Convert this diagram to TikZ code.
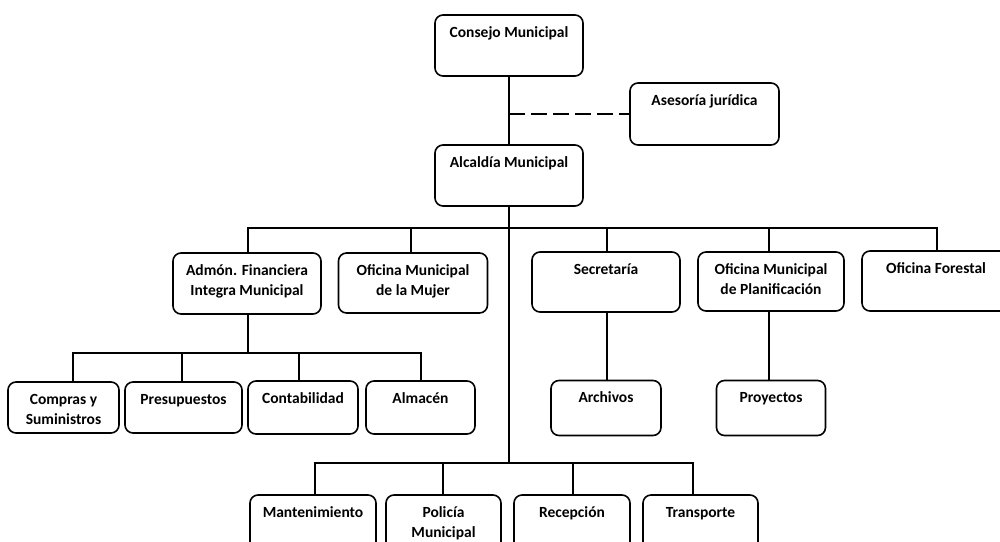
\documentclass[tikz,border=0pt]{standalone}
\usepackage{fontspec}
\setmainfont{Carlito}
\usetikzlibrary{calc}
\tikzset{
  orgbox/.style={draw, line width=1.6pt, rounded corners=8pt, inner sep=0pt},
  orglbl/.style={anchor=north, inner sep=0pt, align=center, font=\bfseries\fontsize{15.5}{20}\selectfont},
  conn/.style={line width=2.2pt},
  dconn/.style={line width=2.2pt, dash pattern=on 16pt off 6pt}
}
\newcommand\obox[6]{%
  \node[orgbox, minimum width=#4pt, minimum height=#5pt] (#1) at (#2,#3) {};
  \node[orglbl] (#1-t) at ([yshift=-9pt]#1.north) {\strut #6};
}
\begin{document}
\begin{tikzpicture}[x=1pt,y=-1pt]
\useasboundingbox (0,0) rectangle (1000,541);
\clip (0,0) rectangle (1000,541);
\fill[white] (0,0) rectangle (1000,541);
% top level
\obox{consejo}{509}{45.5}{148}{61}{Consejo Municipal}
\obox{asesoria}{704.5}{114}{149}{62}{Asesoría jurídica}
\obox{alcaldia}{509}{175.5}{148}{61}{Alcaldía Municipal}
% second level
\obox{admon}{247}{283.5}{148}{61}{Admón. Financiera\\Integra Municipal}
\obox{mujer}{413}{283}{149}{60}{Oficina Municipal\\de la Mujer}
\obox{secretaria}{606}{282}{148}{60}{Secretaría}
\obox{planif}{771}{281.5}{146}{59}{Oficina Municipal\\de Planificación}
\obox{forestal}{936}{281}{148}{60}{Oficina Forestal}
% third level
\obox{compras}{63.5}{407.5}{111}{51}{Compras y\\Suministros}
\obox{presup}{183.5}{407.5}{117}{51}{Presupuestos}
\obox{contab}{303}{407.5}{110}{53}{Contabilidad}
\obox{almacen}{420.5}{407.5}{109}{53}{Almacén}
\obox{archivos}{606}{408}{110}{55}{Archivos}
\obox{proyectos}{771}{408}{109}{55}{Proyectos}
% bottom level
\obox{mant}{313}{523.5}{126}{57}{Mantenimiento}
\obox{policia}{443.5}{523.5}{115}{57}{Policía\\Municipal}
\obox{recepcion}{572}{523.5}{116}{57}{Recepción}
\obox{transporte}{700.5}{523.5}{115}{57}{Transporte}
% junctions
\coordinate (j1) at (509,228);
\coordinate (j2) at (248,353);
\coordinate (j3) at (509,463);
% connectors
\draw[conn] (consejo.south) -- (alcaldia.north);
\draw[dconn] (consejo.south |- asesoria.west) -- (asesoria.west);
\draw[conn] (alcaldia.south) -- (j3);
\draw[conn] ([xshift=1pt]admon.north) |- (j1) -| ([xshift=1pt]forestal.north);
\draw[conn] ([xshift=-2pt]mujer.north) |- (j1);
\draw[conn] ([xshift=1pt]secretaria.north) |- (j1);
\draw[conn] ([xshift=-2pt]planif.north) |- (j1);
\draw[conn] ([xshift=1pt]admon.south) -- (j2);
\draw[conn] ([xshift=9.5pt]compras.north) |- (j2) -| ([xshift=0.5pt]almacen.north);
\draw[conn] ([xshift=-1.5pt]presup.north) |- (j2);
\draw[conn] ([xshift=-4pt]contab.north) |- (j2);
\draw[conn] ([xshift=1pt]secretaria.south) -- ([xshift=1pt]archivos.north);
\draw[conn] ([xshift=-2pt]planif.south) -- ([xshift=-2pt]proyectos.north);
\draw[conn] ([xshift=2pt]mant.north) |- (j3) -| ([xshift=-7.5pt]transporte.north);
\draw[conn] ([xshift=-0.5pt]policia.north) |- (j3);
\draw[conn] ([xshift=1pt]recepcion.north) |- (j3);
\end{tikzpicture}
\end{document}
